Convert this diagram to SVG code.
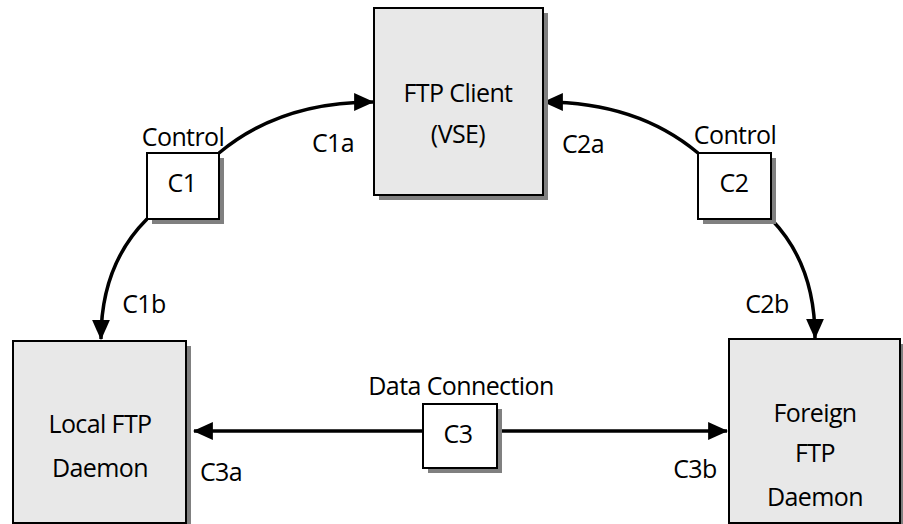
<svg xmlns="http://www.w3.org/2000/svg" width="903" height="524" viewBox="0 0 903 524">
<defs>
<style>
.big{fill:#e8e8e8;stroke:#000;stroke-width:2}
.small{fill:#fff;stroke:#000;stroke-width:2}
.shadow{fill:#808080}
.conn{fill:none;stroke:#000;stroke-width:3.5}
text{font-family:"Open Sans","Noto Sans","Liberation Sans",sans-serif;font-size:25px;letter-spacing:-0.6px;fill:#000;text-anchor:middle}
</style>
<marker id="ah" markerUnits="userSpaceOnUse" markerWidth="20" markerHeight="20" viewBox="0 0 18 16" refX="17" refY="8" orient="auto">
<path d="M0,0 L18,8 L0,16 Z" fill="#000"/>
</marker>
</defs>
<rect width="903" height="524" fill="#fff"/>
<g id="connectors">
<path class="conn" d="M219,153 Q280,102 373,102" marker-end="url(#ah)"/>
<path class="conn" d="M147,219 Q101,265 101,339" marker-end="url(#ah)"/>
<path class="conn" d="M698,153 Q637,102 544,102" marker-end="url(#ah)"/>
<path class="conn" d="M772,220 Q815,265 815,338" marker-end="url(#ah)"/>
<path class="conn" d="M423,431 L194,431" marker-end="url(#ah)"/>
<path class="conn" d="M497,431 L727,431" marker-end="url(#ah)"/>
</g>
<g id="ftp-client">
<rect class="shadow" x="379" y="13" width="169" height="187"/>
<rect class="big" x="374" y="8" width="169" height="187"/>
<text x="458" y="102">FTP Client</text>
<text x="458" y="143">(VSE)</text>
</g>
<g id="c1">
<rect class="shadow" x="152" y="158" width="72" height="66"/>
<rect class="small" x="147" y="153" width="72" height="66"/>
<text x="182" y="192">C1</text>
</g>
<g id="c2">
<rect class="shadow" x="703" y="158" width="73" height="66"/>
<rect class="small" x="698" y="153" width="73" height="66"/>
<text x="734" y="192">C2</text>
</g>
<g id="local-daemon">
<rect class="shadow" x="18" y="346" width="173" height="182"/>
<rect class="big" x="13" y="341" width="173" height="182"/>
<text x="100" y="433">Local FTP</text>
<text x="100" y="477">Daemon</text>
</g>
<g id="foreign-daemon">
<rect class="shadow" x="734" y="344" width="171" height="184"/>
<rect class="big" x="729" y="339" width="171" height="184"/>
<text x="815" y="422">Foreign</text>
<text x="815" y="462">FTP</text>
<text x="815" y="506">Daemon</text>
</g>
<g id="c3">
<rect class="shadow" x="428" y="409" width="74" height="64"/>
<rect class="small" x="423" y="404" width="74" height="64"/>
<text x="458" y="443">C3</text>
</g>
<g id="labels">
<text x="183" y="146">Control</text>
<text x="735" y="144">Control</text>
<text x="461" y="395">Data Connection</text>
<text x="333" y="152">C1a</text>
<text x="583" y="153">C2a</text>
<text x="144" y="313">C1b</text>
<text x="767" y="313">C2b</text>
<text x="221" y="481">C3a</text>
<text x="695" y="478">C3b</text>
</g>
</svg>
